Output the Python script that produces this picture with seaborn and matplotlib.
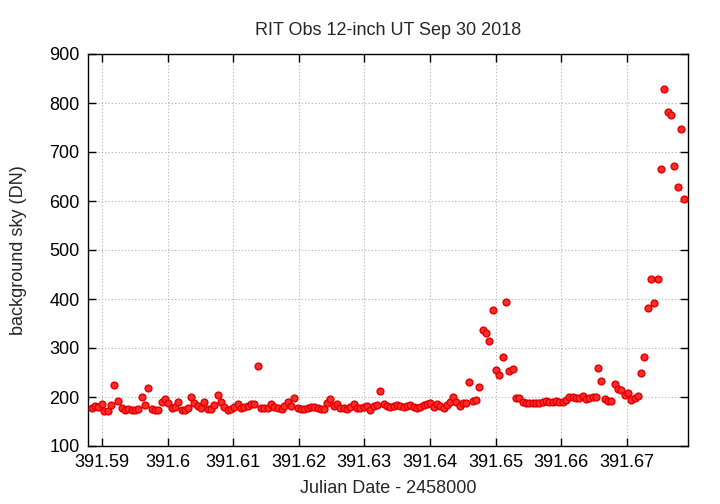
import matplotlib
matplotlib.use("Agg")
import matplotlib.pyplot as plt
import seaborn as sns
import pandas as pd

# ---- data (Julian Date - 2458000, background sky DN) ----
jd = [391.58843, 391.58893, 391.58944, 391.58995, 391.59035, 391.59096, 391.59137, 391.59188,
      391.59239, 391.59300, 391.59351, 391.59401, 391.59453, 391.59503, 391.59553, 391.59605,
      391.59655, 391.59706, 391.59758, 391.59808, 391.59858, 391.59910, 391.59960, 391.60011,
      391.60062, 391.60113, 391.60163, 391.60215, 391.60265, 391.60306, 391.60357, 391.60407,
      391.60459, 391.60509, 391.60559, 391.60611, 391.60662, 391.60712, 391.60764, 391.60814,
      391.60864, 391.60916, 391.60966, 391.61017, 391.61069, 391.61119, 391.61169, 391.61221,
      391.61271, 391.61322, 391.61373, 391.61424, 391.61474, 391.61526, 391.61576, 391.61627,
      391.61678, 391.61739, 391.61779, 391.61831, 391.61881, 391.61931, 391.61983, 391.62034,
      391.62084, 391.62136, 391.62186, 391.62236, 391.62288, 391.62338, 391.62389, 391.62430,
      391.62480, 391.62532, 391.62582, 391.62633, 391.62684, 391.62735, 391.62785, 391.62837,
      391.62887, 391.62938, 391.62989, 391.63040, 391.63090, 391.63142, 391.63192, 391.63242,
      391.63294, 391.63345, 391.63395, 391.63447, 391.63497, 391.63547, 391.63599, 391.63649,
      391.63700, 391.63752, 391.63802, 391.63852, 391.63904, 391.63954, 391.64005, 391.64056,
      391.64107, 391.64157, 391.64209, 391.64259, 391.64309, 391.64351, 391.64401, 391.64453,
      391.64503, 391.64553, 391.64599, 391.64651, 391.64701, 391.64752, 391.64803, 391.64854,
      391.64904, 391.64956, 391.65006, 391.65056, 391.65108, 391.65159, 391.65209, 391.65261,
      391.65311, 391.65361, 391.65413, 391.65463, 391.65514, 391.65566, 391.65616, 391.65666,
      391.65718, 391.65768, 391.65818, 391.65870, 391.65921, 391.65971, 391.66023, 391.66073,
      391.66124, 391.66175, 391.66226, 391.66276, 391.66328, 391.66378, 391.66428, 391.66480,
      391.66531, 391.66561, 391.66611, 391.66663, 391.66713, 391.66763, 391.66816, 391.66866,
      391.66916, 391.66968, 391.67018, 391.67069, 391.67121, 391.67171, 391.67216, 391.67267,
      391.67319, 391.67369, 391.67419, 391.67471, 391.67521, 391.67572, 391.67623, 391.67674,
      391.67724, 391.67776, 391.67826, 391.67877]

sky = [177.6, 182.3, 178.9, 186.4, 172.1, 172.0, 184.4, 223.8,
       191.2, 177.6, 172.8, 176.2, 174.1, 174.0, 174.8, 199.3,
       184.4, 219.0, 176.0, 174.0, 174.0, 189.0, 196.6, 187.0,
       178.0, 180.0, 190.5, 173.5, 174.0, 177.0, 200.7, 187.0,
       182.3, 177.6, 189.0, 176.0, 176.0, 183.7, 204.8, 189.0,
       179.6, 172.8, 175.5, 179.6, 185.7, 177.0, 179.0, 182.3,
       185.0, 185.7, 262.6, 177.0, 177.0, 178.2, 185.0, 179.6,
       178.2, 176.2, 182.3, 189.8, 182.3, 198.0, 177.6, 175.5,
       175.5, 178.2, 179.6, 179.6, 176.9, 175.5, 176.2, 187.8,
       196.6, 181.0, 185.7, 177.6, 176.9, 175.5, 179.6, 185.7,
       177.6, 178.2, 180.3, 181.0, 174.1, 181.0, 183.0, 211.6,
       185.0, 182.3, 178.9, 181.0, 183.0, 181.0, 179.6, 182.3,
       184.4, 179.6, 176.9, 180.3, 183.7, 185.7, 187.0, 179.6,
       185.7, 181.0, 178.2, 183.7, 189.0, 201.0, 190.0, 182.0,
       187.0, 188.7, 230.0, 191.8, 193.2, 219.7, 336.7, 330.6,
       315.0, 377.6, 255.1, 245.6, 281.6, 393.9, 253.0, 257.1,
       198.0, 198.0, 189.8, 187.0, 187.0, 187.0, 187.0, 188.4,
       189.0, 192.5, 190.5, 189.0, 191.2, 189.8, 189.8, 194.6,
       199.3, 200.0, 198.6, 198.0, 202.0, 195.2, 197.3, 200.0,
       200.0, 259.2, 233.3, 195.9, 191.2, 191.2, 227.2, 216.3,
       215.0, 204.8, 208.2, 194.6, 198.0, 201.4, 248.3, 281.6,
       382.3, 440.8, 392.5, 440.8, 666.0, 828.6, 782.3, 776.2,
       670.7, 628.6, 746.9, 604.8]

x_ticks = [391.59, 391.60, 391.61, 391.62, 391.63, 391.64, 391.65, 391.66, 391.67]
x_ticklabels = ["391.59", "391.6", "391.61", "391.62", "391.63", "391.64", "391.65", "391.66", "391.67"]
y_ticks = [100, 200, 300, 400, 500, 600, 700, 800, 900]

title = "RIT Obs 12-inch UT Sep 30 2018"
xlabel = "Julian Date - 2458000"
ylabel = "background sky (DN)"

df = pd.DataFrame({"jd": jd, "sky": sky})

sns.set_style("ticks")
plt.rcParams["font.family"] = ["Liberation Sans", "DejaVu Sans"]

fig = plt.figure(figsize=(7.2, 5.04), dpi=100)
ax = fig.add_axes([88 / 720, 58 / 504, 600 / 720, 392 / 504])

sns.scatterplot(data=df, x="jd", y="sky", ax=ax, color="#ff2a2a", edgecolor="#e00000",
                linewidth=1.0, s=24, zorder=3, legend=False)

ax.set_xlim(391.58787, 391.67933)
ax.set_ylim(100, 900)
ax.set_xticks(x_ticks)
ax.set_xticklabels(x_ticklabels)
ax.set_yticks(y_ticks)

ax.grid(True, color="#b0b0b0", linestyle=(0, (1, 2)), linewidth=0.8)
ax.set_axisbelow(True)
for sp in ax.spines.values():
    sp.set_visible(True)
    sp.set_color("black")
    sp.set_linewidth(1.0)

ax.tick_params(axis="both", direction="in", length=6, width=1, labelsize=13,
               top=True, right=True, colors="black", pad=6)

ax.set_title(title, fontsize=13, pad=14)
ax.set_xlabel(xlabel, fontsize=13, labelpad=6)
ax.set_ylabel(ylabel, fontsize=13, labelpad=16)

fig.savefig("out.png", dpi=100)
